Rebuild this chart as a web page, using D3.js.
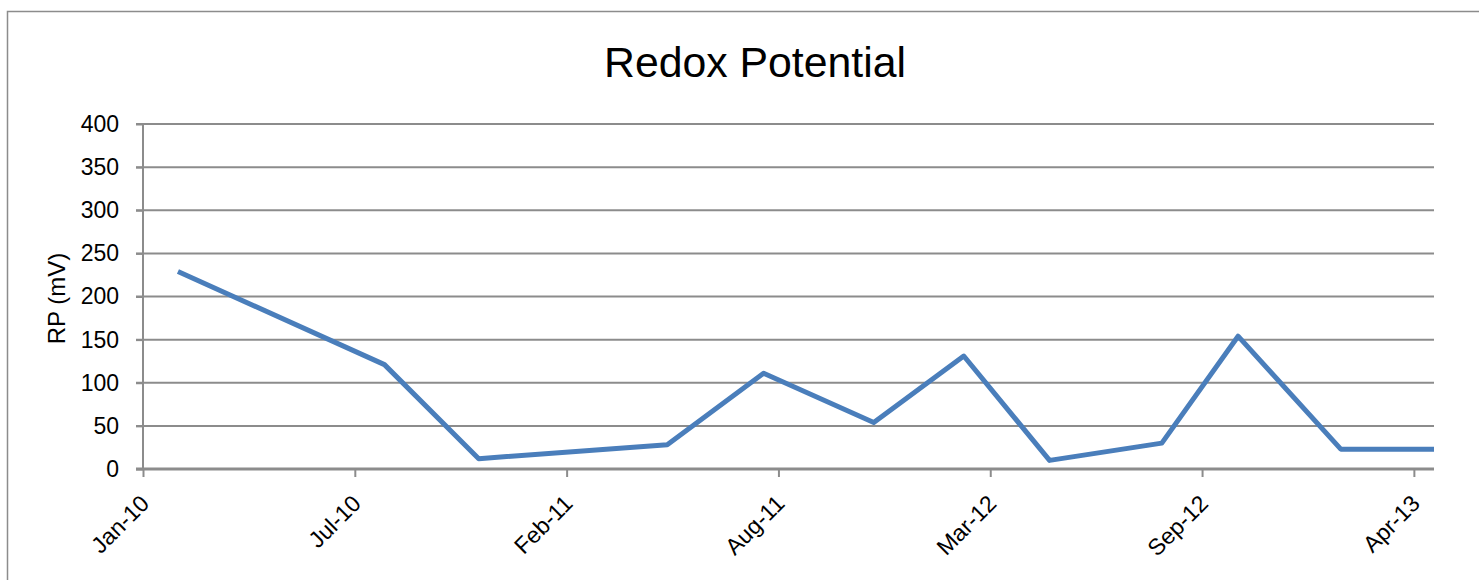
<!DOCTYPE html>
<html>
<head>
<meta charset="utf-8">
<script src="https://cdn.jsdelivr.net/npm/d3@7"></script>
<style>
  body { margin: 0; background: #fff; }
  svg { display: block; font-family: "Liberation Sans", Arial, sans-serif; }
  .grid line { stroke: #8c8c8c; stroke-width: 2; }
  .axis text { fill: #000; font-size: 23px; }
</style>
</head>
<body>
<svg class="chart"></svg>
<script>
// sample dates and redox potential (mV)
const dates = ['2010-02-03', '2010-08-17', '2010-11-14', '2011-05-11', '2011-08-10', '2011-11-22',
  '2012-02-15', '2012-05-06', '2012-08-20', '2012-10-31', '2013-02-05', '2013-05-04']
const rp = [229, 121, 12, 28, 111, 54, 131, 10, 30, 154, 23, 23]

const yTicks = [0, 50, 100, 150, 200, 250, 300, 350, 400]
const axisStart = '2010-01-01'
const tickStepDays = 200
const tickCount = 7

const title = 'Redox Potential'
const yTitle = 'RP  (mV)'

const width = 1479
const height = 580
const margin = { top: 124, right: 45, bottom: 111, left: 143 }

const parse = d3.timeParse('%Y-%m-%d')
const points = dates.map((d, i) => ({ date: parse(d), value: rp[i] }))
const start = parse(axisStart)
const xTicks = d3.range(tickCount).map(i => d3.timeDay.offset(start, i * tickStepDays))

const chart = d3.select('.chart')
  .attr('width', width)
  .attr('height', height)

// outer chart frame (runs off the right and bottom of the picture)
chart.append('rect')
  .attr('x', 7.5)
  .attr('y', 11.5)
  .attr('width', width + 20)
  .attr('height', height + 20)
  .attr('fill', 'none')
  .attr('stroke', '#8c8c8c')
  .attr('stroke-width', 1.5)

const x = d3.scaleTime()
  .domain([start, points[points.length - 1].date])
  .range([margin.left, width - margin.right])

const y = d3.scaleLinear()
  .domain([0, 400])
  .range([height - margin.bottom, margin.top])

chart.append('g').attr('class', 'grid')
  .selectAll('line')
  .data(yTicks.filter(v => v > 0))
  .enter()
  .append('line')
  .attr('x1', margin.left - 7)
  .attr('x2', width - margin.right)
  .attr('y1', v => y(v))
  .attr('y2', v => y(v))

const yAxis = chart.append('g').attr('class', 'axis')
  .attr('transform', `translate(${margin.left},0)`)
  .call(d3.axisLeft(y).tickValues(yTicks).tickSize(7).tickPadding(17))
yAxis.selectAll('line, path').attr('stroke', '#8c8c8c').attr('stroke-width', 2)
yAxis.select('.domain').attr('d', `M0,${y(400)}V${y(0)}`)
yAxis.selectAll('text').attr('font-size', 24)

const xAxis = chart.append('g').attr('class', 'axis')
  .attr('transform', `translate(0,${y(0)})`)
  .call(d3.axisBottom(x).tickValues(xTicks).tickFormat(d3.timeFormat('%b-%y')).tickSize(8).tickSizeOuter(0))
xAxis.selectAll('line').attr('stroke', '#8c8c8c').attr('stroke-width', 2)
xAxis.select('.domain').attr('stroke', '#8c8c8c').attr('stroke-width', 3)
  .attr('d', `M${margin.left - 7},0H${width - margin.right}`)
xAxis.selectAll('text')
  .attr('text-anchor', 'end')
  .attr('dy', null)
  .attr('y', 0)
  .attr('transform', 'translate(7,36) rotate(-45)')

const line = d3.line()
  .x(d => x(d.date))
  .y(d => y(d.value))

chart.append('path')
  .datum(points)
  .attr('fill', 'none')
  .attr('stroke', '#4a7ebb')
  .attr('stroke-width', 5)
  .attr('stroke-linejoin', 'round')
  .attr('d', line)

chart.append('text')
  .attr('x', 755)
  .attr('y', 77)
  .attr('text-anchor', 'middle')
  .attr('font-size', 43)
  .attr('textLength', 302)
  .attr('lengthAdjust', 'spacingAndGlyphs')
  .text(title)

chart.append('text')
  .attr('transform', `translate(65,${(margin.top + height - margin.bottom) / 2 + 2}) rotate(-90)`)
  .attr('text-anchor', 'middle')
  .attr('font-size', 24)
  .text(yTitle)
</script>
</body>
</html>
